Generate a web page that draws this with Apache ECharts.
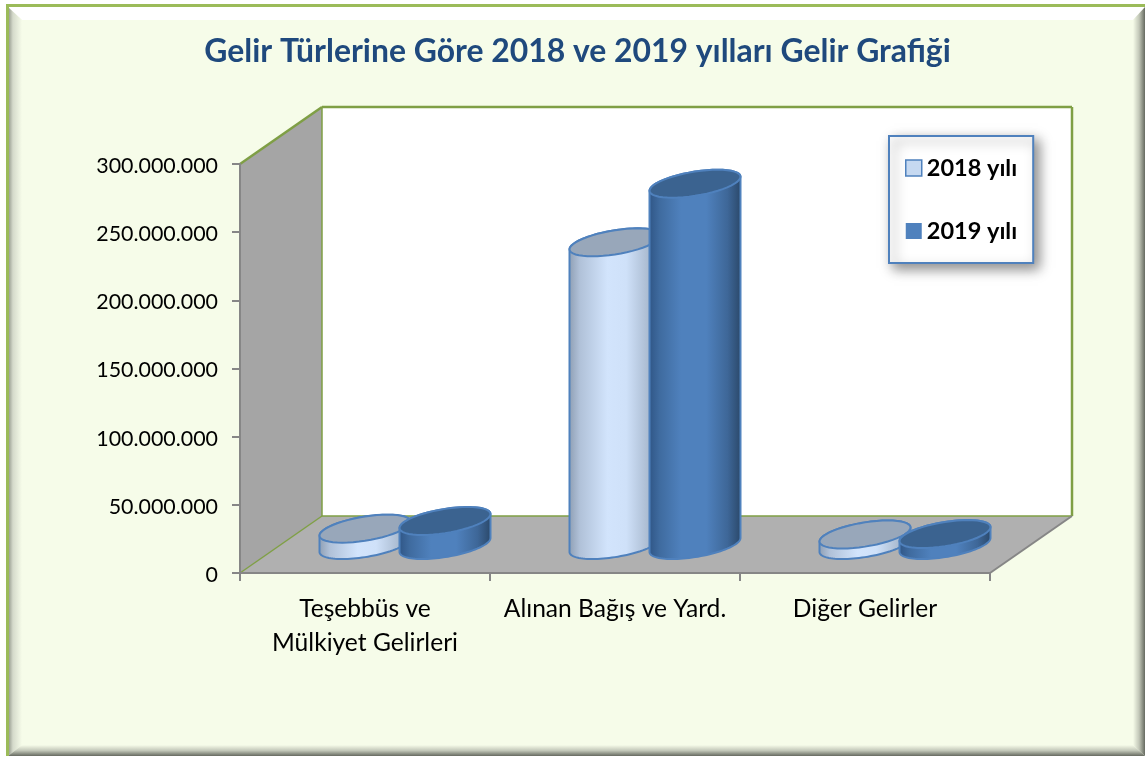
<!DOCTYPE html>
<html>
<head>
<meta charset="utf-8" />
<title>Gelir Grafiği</title>
<script src="https://cdn.jsdelivr.net/npm/echarts@6/dist/echarts.min.js"></script>
<style>
  html, body { margin: 0; padding: 0; background: #fff; }
  #main { width: 1145px; height: 758px; }
</style>
</head>
<body>
<div id="main"></div>
<script>
var titleText = "Gelir Türlerine Göre 2018 ve 2019 yılları Gelir Grafiği";
var categories = ["Teşebbüs ve\nMülkiyet Gelirleri", "Alınan Bağış ve Yard.", "Diğer Gelirler"];
var seriesNames = ["2018 yılı", "2019 yılı"];
var values2018 = [12000000, 222000000, 7700000];
var values2019 = [17600000, 265000000, 8000000];

var chart = echarts.init(document.getElementById("main"));
var FONT = "Lato";
var BLUE = "#4f81bd";
var GREEN = "#7f9f45";
var AXIS = "#868686";
// depth of the fake 3d box, in px
var DX = 82;
var DY = 57;
// cylinder ellipse
var RX = 45.5;
var RY = 14;
var TILT = Math.PI / 6;

function grad(x2, y2, stops) {
  return new echarts.graphic.LinearGradient(0, 0, x2, y2, stops.map(function (s) {
    return { offset: s[0], color: s[1] };
  }));
}

function arc(cx, cy, from, to) {
  var pts = [];
  for (var i = 0; i <= 48; i++) {
    var t = from + ((to - from) * i) / 48;
    pts.push([cx + RX * Math.cos(t), cy - RY * Math.sin(t + TILT)]);
  }
  return pts;
}

function renderWalls(params, api) {
  var c = params.coordSys;
  var l = c.x, t = c.y, r = c.x + c.width, b = c.y + c.height;
  function poly(points, fill) {
    return { type: "polygon", shape: { points: points }, style: { fill: fill, stroke: null } };
  }
  function line(x1, y1, x2, y2, color, w) {
    return { type: "line", shape: { x1: x1, y1: y1, x2: x2, y2: y2 }, style: { stroke: color, lineWidth: w } };
  }
  return {
    type: "group",
    children: [
      poly([[l + DX, t - DY], [r + DX, t - DY], [r + DX, b - DY], [l + DX, b - DY]], "#ffffff"),
      poly([[l, t], [l + DX, t - DY], [l + DX, b - DY], [l, b]], "#a5a5a5"),
      poly([[l, b], [l + DX, b - DY], [r + DX, b - DY], [r, b]], "#b0b0b0"),
      line(l, t, l + DX, t - DY, GREEN, 2.5),
      line(l + DX, t - DY, r + DX, t - DY, GREEN, 2.5),
      line(r + DX, t - DY, r + DX, b - DY, GREEN, 2.5),
      line(l + DX, t - DY, l + DX, b - DY, GREEN, 1.5),
      line(l + DX, b - DY, r + DX, b - DY, GREEN, 1.5),
      line(l, b, l + DX, b - DY, GREEN, 1.5),
      line(r, b, r + DX, b - DY, AXIS, 2),
    ],
  };
}

function cylinder(side, topColor, shift) {
  return function (params, api) {
    var cat = api.value(0);
    var base = api.coord([cat, 0]);
    var top = api.coord([cat, api.value(1)]);
    var band = api.size([1, 0])[0];
    var cx = base[0] + band * shift;
    var y0 = base[1] - 28;
    var y1 = top[1] - 28;
    var body = arc(cx, y0, Math.PI, Math.PI * 2).concat(arc(cx, y1, 0, Math.PI));
    return {
      type: "group",
      children: [
        { type: "polygon", shape: { points: body }, style: { fill: side, stroke: BLUE, lineWidth: 2 } },
        { type: "polygon", shape: { points: arc(cx, y1, 0, Math.PI * 2) }, style: { fill: topColor, stroke: BLUE, lineWidth: 2 } },
      ],
    };
  };
}

function toData(list) {
  return list.map(function (v, i) {
    return [i, v];
  });
}

var side2018 = grad(1, 0, [[0, "#8d9db2"], [0.12, "#b0c1d8"], [0.42, "#d2e4fc"], [0.62, "#cfe1f9"], [1, "#95a5b9"]]);
var side2019 = grad(1, 0, [[0, "#2f5585"], [0.12, "#3f6b9f"], [0.35, "#4f81bd"], [0.62, "#4f81bd"], [0.85, "#3e6798"], [1, "#2a4768"]]);

var option = {
  animation: false,
  backgroundColor: "#ffffff",
  title: {
    text: titleText,
    left: 572.5,
    top: 31,
    textAlign: "center",
    textStyle: { fontFamily: FONT, fontSize: 31.9, fontWeight: "bold", color: "#1f497d" },
  },
  legend: {
    orient: "vertical",
    left: 889,
    top: 136,
    icon: "rect",
    itemWidth: 16,
    itemHeight: 16,
    itemGap: 39,
    padding: [20, 16, 20, 16],
    backgroundColor: "#ffffff",
    borderColor: BLUE,
    borderWidth: 2,
    shadowColor: "rgba(0,0,0,0.45)",
    shadowBlur: 12,
    shadowOffsetX: 5,
    shadowOffsetY: 5,
    textStyle: { fontFamily: FONT, fontSize: 23.5, fontWeight: "bold", color: "#000" },
    data: [
      { name: seriesNames[0], itemStyle: { color: "#c6d9f1", borderColor: BLUE, borderWidth: 1.5 } },
      { name: seriesNames[1], itemStyle: { color: BLUE, borderWidth: 0 } },
    ],
  },
  grid: { left: 240, top: 164, width: 750, height: 409 },
  xAxis: {
    type: "category",
    data: categories,
    axisLine: { show: true, lineStyle: { color: AXIS, width: 2 } },
    axisTick: { show: true, alignWithLabel: false, length: 8, lineStyle: { color: AXIS, width: 2 } },
    axisLabel: { interval: 0, margin: 19, color: "#000", fontFamily: FONT, fontSize: 24.6, lineHeight: 34 },
  },
  yAxis: {
    type: "value",
    min: 0,
    max: 300000000,
    interval: 50000000,
    splitLine: { show: false },
    axisLine: { show: true, lineStyle: { color: AXIS, width: 2 } },
    axisTick: { show: true, length: 8, lineStyle: { color: AXIS, width: 2 } },
    axisLabel: {
      margin: 22,
      color: "#000",
      fontFamily: FONT,
      fontSize: 21.4,
      formatter: function (v) {
        return "{v|" + String(v).replace(/\B(?=(\d{3})+$)/g, ".") + "}";
      },
      // labels sit a bit under their tick
      rich: {
        v: { color: "#000", fontFamily: FONT, fontSize: 21.4, padding: [4, 0, 0, 0] },
      },
    },
  },
  // page frame with the bevel edges
  graphic: [
    { type: "rect", z: -100, shape: { x: 6, y: 4, width: 1139, height: 752 }, style: { fill: "#f6fce9" } },
    { type: "polygon", z: -99, shape: { points: [[8, 7], [1145, 7], [1133, 20], [22, 20]] }, style: { fill: "#ffffff" } },
    { type: "polygon", z: -99, shape: { points: [[8, 7], [22, 20], [22, 745], [8, 756]] }, style: { fill: grad(1, 0, [[0, "#8f9488"], [0.35, "#d5dacb"], [1, "#f6fce9"]]) } },
    { type: "polygon", z: -99, shape: { points: [[8, 756], [22, 745], [1133, 745], [1145, 756]] }, style: { fill: grad(0, 1, [[0, "#f6fce9"], [0.5, "#c3c8b9"], [1, "#666a60"]]) } },
    { type: "polygon", z: -99, shape: { points: [[1145, 7], [1133, 20], [1133, 745], [1145, 756]] }, style: { fill: grad(1, 0, [[0, "#f6fce9"], [0.5, "#c3c8b9"], [1, "#666a60"]]) } },
    { type: "rect", z: -98, shape: { x: 6, y: 4, width: 1139, height: 3 }, style: { fill: "#9bbb59" } },
    { type: "rect", z: -98, shape: { x: 6, y: 4, width: 3, height: 752 }, style: { fill: "#9bbb59" } },
  ],
  series: [
    { type: "custom", name: "walls", z: -1, silent: true, coordinateSystem: "cartesian2d", data: [[0, 0]], renderItem: renderWalls },
    { type: "custom", name: seriesNames[0], z: 2, coordinateSystem: "cartesian2d", data: toData(values2018), encode: { x: 0, y: 1 }, renderItem: cylinder(side2018, "#98a7ba", 0) },
    { type: "custom", name: seriesNames[1], z: 3, coordinateSystem: "cartesian2d", data: toData(values2019), encode: { x: 0, y: 1 }, renderItem: cylinder(side2019, "#3b6390", 0.32) },
  ],
};

chart.setOption(option);
</script>
</body>
</html>
